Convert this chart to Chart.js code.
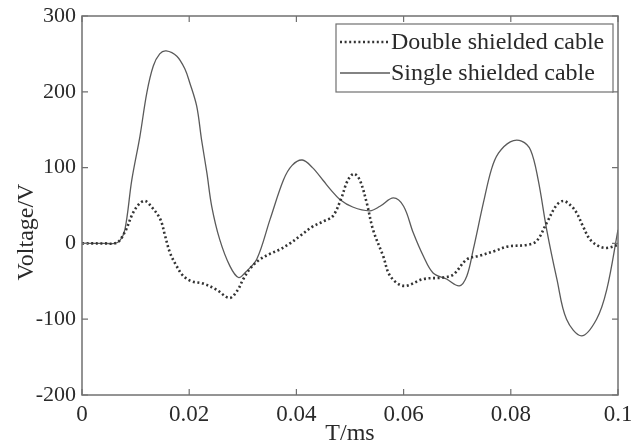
<!DOCTYPE html>
<html>
<head>
<meta charset="utf-8">
<script src="https://cdn.jsdelivr.net/npm/chart.js@4.4.1/dist/chart.umd.min.js"></script>
<style>
  html, body { margin: 0; padding: 0; background: #ffffff; }
  #wrap { width: 631px; height: 448px; position: relative; }
</style>
</head>
<body>
<div id="wrap"><canvas id="c" width="631" height="448"></canvas></div>
<script>
// ---- Data (time in ms, voltage in V) ----
const seriesNames = ['Double shielded cable', 'Single shielded cable'];

const doubleT = [0, 0.002, 0.004, 0.0065, 0.008, 0.0095, 0.0108, 0.0118, 0.013, 0.0146, 0.0155, 0.0164, 0.0175, 0.0189, 0.0205, 0.0226, 0.0251, 0.0275, 0.029, 0.0301, 0.0315, 0.0332, 0.035, 0.0369, 0.0388, 0.0407, 0.043, 0.045, 0.0468, 0.0484, 0.0495, 0.0507, 0.0518, 0.0531, 0.0543, 0.0562, 0.0575, 0.06, 0.0637, 0.0674, 0.0693, 0.0718, 0.0743, 0.077, 0.0795, 0.083, 0.0848, 0.0867, 0.0885, 0.0898, 0.0912, 0.0923, 0.0935, 0.0948, 0.0965, 0.0979, 0.1];
const doubleV = [0, 0, 0, 1, 15, 40, 53, 56, 48, 32, 10, -12, -28, -43, -50, -53, -61, -72, -62, -47, -32, -21, -14, -8, 0, 10, 22, 29, 36, 60, 82, 92, 84, 54, 18, -17, -43, -56, -47, -45, -41, -21, -16, -10, -4, -2, 3, 27, 50, 56, 50, 40, 22, 5, -4, -6, -2];

const singleT = [0, 0.002, 0.004, 0.006, 0.007, 0.008, 0.0093, 0.0108, 0.0121, 0.0133, 0.0145, 0.0157, 0.0177, 0.0192, 0.0201, 0.0214, 0.0223, 0.0233, 0.0242, 0.0257, 0.0276, 0.0292, 0.0305, 0.0326, 0.0351, 0.0376, 0.0392, 0.0411, 0.043, 0.045, 0.0465, 0.0481, 0.0505, 0.0537, 0.0556, 0.0581, 0.06, 0.0618, 0.0637, 0.0655, 0.068, 0.0704, 0.0718, 0.073, 0.0749, 0.0764, 0.0777, 0.0799, 0.082, 0.0837, 0.0851, 0.0867, 0.0886, 0.0904, 0.0932, 0.096, 0.0979, 0.1];
const singleV = [0, 0, 0, 0, 3, 18, 84, 141, 199, 234, 250, 254, 247, 230, 212, 181, 137, 93, 49, 5, -30, -45, -38, -21, 32, 84, 103, 110, 100, 83, 70, 58, 48, 43, 49, 60, 49, 14, -17, -39, -47, -56, -43, -8, 54, 98, 119, 134, 135, 123, 84, 18, -47, -100, -122, -100, -61, 18];

const xTickLabels = ['0', '0.02', '0.04', '0.06', '0.08', '0.1'];
const yTickLabels = ['-200', '-100', '0', '100', '200', '300'];
const xTitle = 'T/ms';
const yTitle = 'Voltage/V';

const FONT = '"Liberation Serif", "Times New Roman", serif';
const frameColor = '#707070';
const textColor = '#2a2a2a';

function pts(t, v) { return t.map((x, i) => ({ x: x, y: v[i] })); }

const framePlugin = {
  id: 'frame',
  afterDraw(chart) {
    const ctx = chart.ctx;
    const a = chart.chartArea;
    const xs = chart.scales.x, ys = chart.scales.y;
    ctx.save();
    ctx.strokeStyle = frameColor;
    ctx.lineWidth = 1.5;
    ctx.strokeRect(a.left, a.top, a.right - a.left, a.bottom - a.top);
    ctx.lineWidth = 1.2;
    const L = 6;
    xs.ticks.forEach(t => {
      const px = xs.getPixelForValue(t.value);
      ctx.beginPath();
      ctx.moveTo(px, a.bottom); ctx.lineTo(px, a.bottom - L);
      ctx.moveTo(px, a.top); ctx.lineTo(px, a.top + L);
      ctx.stroke();
    });
    ys.ticks.forEach(t => {
      const py = ys.getPixelForValue(t.value);
      ctx.beginPath();
      ctx.moveTo(a.left, py); ctx.lineTo(a.left + L, py);
      ctx.moveTo(a.right, py); ctx.lineTo(a.right - L, py);
      ctx.stroke();
    });
    ctx.fillStyle = textColor;
    ctx.font = '24px ' + FONT;
    ctx.textAlign = 'center';
    ctx.textBaseline = 'middle';
    ctx.translate(27, 232);
    ctx.rotate(-Math.PI / 2);
    ctx.fillText(yTitle, 0, 0);
    ctx.restore();

    ctx.save();
    const bx = 336, by = 24, bw = 277, bh = 68;
    ctx.fillStyle = '#ffffff';
    ctx.fillRect(bx, by, bw, bh);
    ctx.strokeStyle = frameColor;
    ctx.lineWidth = 1.2;
    ctx.strokeRect(bx, by, bw, bh);
    const rows = [42, 73];
    chart.data.datasets.forEach((ds, i) => {
      const y = rows[i];
      ctx.beginPath();
      ctx.strokeStyle = ds.borderColor;
      ctx.lineWidth = ds.borderWidth;
      ctx.setLineDash(ds.borderDash || []);
      ctx.moveTo(340, y); ctx.lineTo(390, y);
      ctx.stroke();
      ctx.setLineDash([]);
      ctx.fillStyle = textColor;
      ctx.font = '24px ' + FONT;
      ctx.textAlign = 'left';
      ctx.textBaseline = 'middle';
      ctx.fillText(ds.label, 391, y + 1);
    });
    ctx.restore();
  }
};

new Chart(document.getElementById('c'), {
  type: 'line',
  data: {
    datasets: [
      {
        label: seriesNames[0],
        data: pts(doubleT, doubleV),
        borderColor: '#333333',
        borderWidth: 2.6,
        borderDash: [2, 2.6],
        pointRadius: 0,
        fill: false,
        tension: 0.35
      },
      {
        label: seriesNames[1],
        data: pts(singleT, singleV),
        borderColor: '#5a5a5a',
        borderWidth: 1.3,
        pointRadius: 0,
        fill: false,
        tension: 0.35
      }
    ]
  },
  options: {
    responsive: false,
    animation: false,
    layout: { padding: { top: 16, right: 13, left: 0, bottom: 0 } },
    plugins: { legend: { display: false }, tooltip: { enabled: false } },
    scales: {
      x: {
        type: 'linear',
        min: 0, max: 0.1,
        grid: { display: false, drawTicks: false },
        border: { display: false },
        ticks: {
          stepSize: 0.02,
          padding: 6,
          maxRotation: 0,
          color: textColor,
          font: { family: FONT, size: 23 },
          callback: (v, i) => xTickLabels[i]
        },
        title: { display: true, text: xTitle, color: textColor, font: { family: FONT, size: 24 }, padding: { top: 0, bottom: 0 } },
        afterFit: (s) => { s.height = 53; s.paddingLeft = 0; s.paddingRight = 0; }
      },
      y: {
        min: -200, max: 300,
        grid: { display: false, drawTicks: false },
        border: { display: false },
        ticks: {
          stepSize: 100,
          padding: 6,
          color: textColor,
          font: { family: FONT, size: 22 },
          callback: (v, i) => yTickLabels[i]
        },
        afterFit: (s) => { s.width = 82; s.paddingTop = 0; s.paddingBottom = 0; }
      }
    }
  },
  plugins: [framePlugin]
});
</script>
</body>
</html>
